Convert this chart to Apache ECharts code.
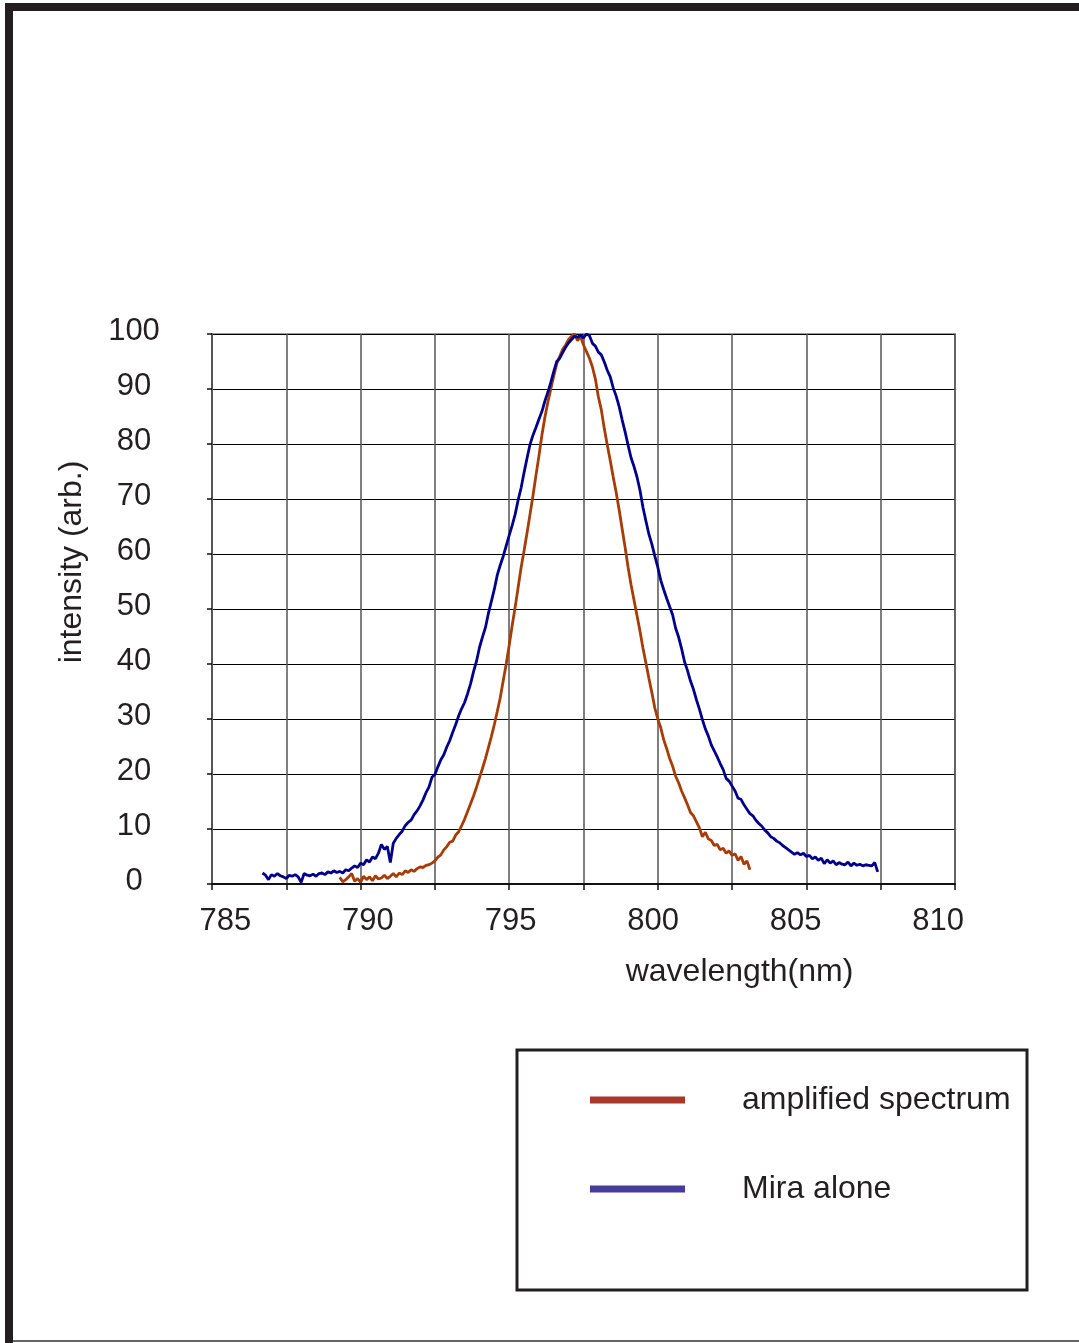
<!DOCTYPE html>
<html>
<head>
<meta charset="utf-8">
<script src="https://cdn.jsdelivr.net/npm/echarts@6/dist/echarts.min.js"></script>
<style>
html,body{margin:0;padding:0;background:#fff;}
#chart{width:1079px;height:1343px;}
</style>
</head>
<body>
<div id="chart"></div>
<script>
// ---- data ----
const seriesNames = ['amplified spectrum', 'Mira alone'];
const xTickLabels = [785, 790, 795, 800, 805, 810];
const wavelengthStep = 0.1;          // nm between samples
const miraStart = 786.7;             // nm, first sample of "Mira alone"
const ampStart = 789.3;              // nm, first sample of "amplified spectrum"

const miraIntensity = [
  2.0,1.6,0.8,1.7,1.4,1.9,1.5,1.3,1.0,1.6,
  1.4,1.7,1.3,0.3,1.9,1.6,1.5,1.8,1.4,1.9,
  2.0,1.7,2.2,2.0,2.4,2.1,2.3,2.0,2.6,2.4,
  2.9,3.3,3.0,3.8,3.5,4.4,4.0,4.9,4.6,5.6,
  7.2,6.3,6.8,3.9,7.4,8.3,9.0,9.6,10.6,11.2,
  11.6,12.6,13.3,14.2,15.3,16.6,17.6,19.4,19.9,21.3,
  22.6,23.5,24.9,26.1,27.6,29.0,30.6,31.9,33.0,34.6,
  36.4,38.6,40.5,43.0,44.9,46.6,49.2,51.4,53.6,56.2,
  58.0,59.6,61.5,63.4,65.2,67.2,69.8,72.0,74.8,77.4,
  79.9,81.6,83.0,84.5,85.9,87.8,89.4,91.2,93.2,95.0,
  95.6,96.6,97.6,98.4,99.0,99.6,99.4,99.8,99.3,100,
  99.7,98.3,97.8,96.7,96.2,94.9,93.4,92.2,90.2,88.7,
  86.8,84.4,82.2,79.8,77.5,75.9,74.0,71.6,68.5,66.0,
  63.6,61.8,59.6,57.6,55.2,53.5,51.9,50.4,48.9,46.5,
  44.9,42.8,40.4,38.8,36.9,35.4,33.5,31.8,29.9,28.2,
  26.9,25.3,24.2,23.1,21.9,20.8,19.2,18.7,17.8,16.9,
  15.6,15.4,14.4,13.6,12.8,12.4,11.6,11.0,10.5,9.8,
  9.3,8.6,8.3,7.8,7.5,7.0,6.6,6.2,5.8,5.4,
  5.7,5.3,5.6,5.0,5.2,4.6,4.9,4.3,4.7,3.7,
  4.4,3.8,4.2,3.5,3.9,3.6,3.5,4.0,3.3,3.8,
  3.4,3.6,3.3,3.5,3.4,3.3,3.9,2.2
];

const ampIntensity = [
  1.2,0.4,0.8,1.3,1.9,0.5,1.0,0.3,1.4,0.8,
  1.3,0.6,1.5,0.9,1.1,1.6,1.0,1.4,1.9,1.3,
  2.0,1.7,2.4,2.1,2.6,2.3,2.8,3.1,3.0,3.4,
  3.5,3.8,4.2,4.9,5.3,6.2,6.8,7.6,7.8,8.9,
  9.5,10.6,11.8,13.2,14.6,16.0,17.6,19.3,21.0,22.8,
  24.8,26.8,29.0,31.4,33.9,37.0,40.0,43.4,47.0,50.3,
  53.9,57.5,60.6,63.8,67.2,70.6,74.3,77.8,81.6,84.8,
  87.6,90.0,92.4,94.6,95.9,97.2,98.0,99.0,99.6,100,
  98.8,99.6,98.0,96.8,95.6,94.0,91.8,88.6,86.2,82.8,
  79.8,77.0,74.0,71.2,68.0,64.6,61.2,57.6,54.4,51.6,
  48.8,46.0,42.9,40.2,37.4,34.8,32.0,30.0,28.4,26.2,
  24.6,22.8,21.4,19.6,18.4,16.9,15.7,14.4,13.0,12.4,
  11.3,10.2,8.6,9.4,8.2,7.9,7.0,7.2,6.2,6.5,
  5.6,6.0,5.2,5.5,4.3,5.0,3.6,4.2,2.6
];

// ---- build ----
function toPairs(start, vals) {
  return vals.map((v, i) => [Math.round((start + i * wavelengthStep) * 100) / 100, v]);
}

const FONT = '"Liberation Sans", Arial, Helvetica, sans-serif';
const TXT = '#231f20';

const chart = echarts.init(document.getElementById('chart'), null, {renderer: 'canvas'});

const option = {
  animation: false,
  backgroundColor: '#ffffff',
  textStyle: {fontFamily: FONT, color: TXT},
  grid: {left: 212, top: 334, width: 743, height: 550, show: true,
         borderColor: '#999', borderWidth: 2, backgroundColor: 'transparent'},
  xAxis: [
    {
      type: 'value', min: 785, max: 810, interval: 2.5, position: 'bottom',
      name: 'wavelength(nm)', nameLocation: 'middle', nameGap: 72,
      nameTextStyle: {fontSize: 32, color: TXT, fontFamily: FONT, padding: [0, 0, 0, 312]},
      axisLine: {show: true, lineStyle: {color: '#111', width: 2}},
      axisTick: {show: true, inside: false, length: 6, lineStyle: {color: '#111', width: 1.5}},
      axisLabel: {show: false},
      splitLine: {show: true, lineStyle: {color: '#555', width: 1.5}}
    },
    {
      type: 'value', min: 784.53, max: 810.59, position: 'bottom', offset: 0,
      axisLine: {show: false}, axisTick: {show: false}, splitLine: {show: false},
      axisLabel: {show: true, customValues: xTickLabels, margin: 22, fontSize: 31,
                  color: TXT, fontFamily: FONT}
    }
  ],
  yAxis: {
    type: 'value', min: 0, max: 100, interval: 10,
    name: 'intensity (arb.)', nameLocation: 'middle', nameGap: 124,
    nameTextStyle: {fontSize: 32, color: TXT, fontFamily: FONT, padding: [0, 0, 0, 94]},
    axisLine: {show: true, lineStyle: {color: '#555', width: 2}},
    axisTick: {show: true, inside: false, length: 5, lineStyle: {color: '#111', width: 1.5}},
    axisLabel: {show: true, align: 'center', verticalAlign: 'bottom', lineHeight: 6,
                margin: 78, fontSize: 31, color: TXT, fontFamily: FONT},
    splitLine: {show: true, lineStyle: {color: '#000', width: 1.2}}
  },
  legend: {
    orient: 'vertical', left: 590, top: 1082, padding: 0, itemWidth: 95, itemHeight: 7,
    icon: 'rect', itemGap: 53,
    textStyle: {fontSize: 32, color: TXT, fontFamily: FONT, lineHeight: 36,
                padding: [0, 0, 0, 52]},
    data: [
      {name: seriesNames[0], itemStyle: {color: '#A8392A'}, lineStyle: {color: '#A8392A'}},
      {name: seriesNames[1], itemStyle: {color: '#463C9C'}, lineStyle: {color: '#463C9C'}}
    ]
  },
  graphic: [
    {type: 'rect', shape: {x: 5, y: 3, width: 1074, height: 8}, style: {fill: '#231f20'}, silent: true},
    {type: 'rect', shape: {x: 5, y: 3, width: 8, height: 1340}, style: {fill: '#231f20'}, silent: true},
    {type: 'rect', shape: {x: 13, y: 1340, width: 1066, height: 2}, style: {fill: '#666'}, silent: true},
    {type: 'rect', shape: {x: 517, y: 1050, width: 510, height: 240},
     style: {fill: 'none', stroke: '#231f20', lineWidth: 3}, silent: true, z: 0}
  ],
  series: [
    {
      name: seriesNames[0], type: 'line', xAxisIndex: 0, showSymbol: false, symbol: 'none',
      data: toPairs(ampStart, ampIntensity),
      itemStyle: {color: '#A63C06'},
      lineStyle: {color: '#A63C06', width: 2.8}
    },
    {
      name: seriesNames[1], type: 'line', xAxisIndex: 0, showSymbol: false, symbol: 'none',
      data: toPairs(miraStart, miraIntensity),
      itemStyle: {color: '#00008B'},
      lineStyle: {color: '#00008B', width: 2.8}
    }
  ]
};

chart.setOption(option);
</script>
</body>
</html>
